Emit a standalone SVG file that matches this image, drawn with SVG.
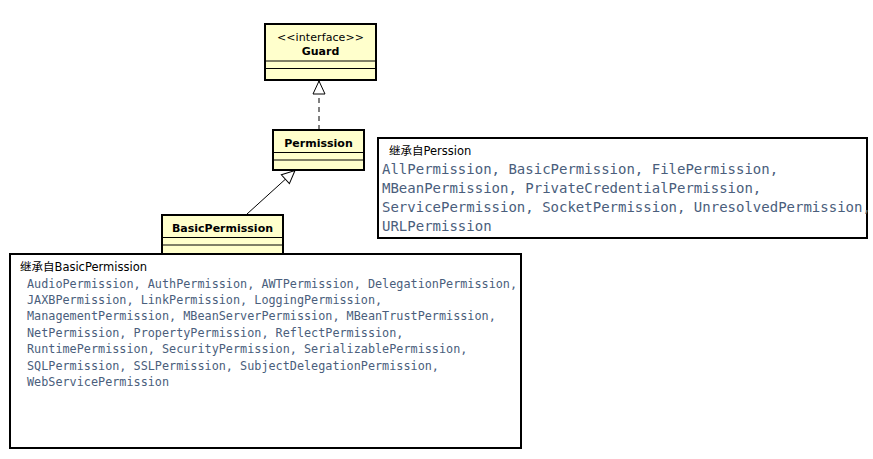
<svg xmlns="http://www.w3.org/2000/svg" width="873" height="459" viewBox="0 0 873 459">
<style>
.cls{fill:#FFFFCC;stroke:#000;stroke-width:2}
.sep{stroke:#000;stroke-width:1}
.name{font-family:"DejaVu Sans",sans-serif;font-size:11px;font-weight:bold;text-anchor:middle;fill:#000}
.st{font-family:"DejaVu Sans",sans-serif;font-size:11px;text-anchor:middle;fill:#000}
.note{fill:#fff;stroke:#000;stroke-width:2}
.nt{font-family:"DejaVu Sans","Noto Sans CJK SC",sans-serif;font-size:11.5px;fill:#000}
.code{font-family:"DejaVu Sans Mono",monospace;fill:#4A5E7C}
.c14{font-size:14px}
.c12{font-size:11.8px}
.edge{stroke:#000;stroke-width:1;fill:none}
</style>
<defs>
<marker id="tri" markerWidth="16" markerHeight="14" refX="14" refY="7" orient="auto" markerUnits="userSpaceOnUse">
<path d="M1,1 L14,7 L1,13 Z" fill="#fff" stroke="#000" stroke-width="1"/>
</marker>
</defs>
<rect width="873" height="459" fill="#fff"/>
<g id="connectors">
<line class="edge" x1="319" y1="130" x2="319" y2="81" stroke-dasharray="5,4" marker-end="url(#tri)"/>
<line class="edge" x1="247" y1="214" x2="295" y2="170.5" marker-end="url(#tri)"/>
</g>
<g id="guard">
<rect class="cls" x="265" y="24" width="111" height="56"/>
<text class="st" x="320.5" y="41" textLength="87" lengthAdjust="spacing">&lt;&lt;interface&gt;&gt;</text>
<text class="name" x="320.5" y="55">Guard</text>
<line class="sep" x1="265" y1="61" x2="376" y2="61"/>
<line class="sep" x1="265" y1="68.5" x2="376" y2="68.5"/>
</g>
<g id="permission">
<rect class="cls" x="273" y="130" width="91" height="40"/>
<text class="name" x="318.5" y="147">Permission</text>
<line class="sep" x1="273" y1="152.5" x2="364" y2="152.5"/>
<line class="sep" x1="273" y1="160" x2="364" y2="160"/>
</g>
<g id="basicpermission">
<rect class="cls" x="162" y="215" width="121" height="40"/>
<text class="name" x="222.5" y="232">BasicPermission</text>
<line class="sep" x1="162" y1="237.5" x2="283" y2="237.5"/>
<line class="sep" x1="162" y1="245" x2="283" y2="245"/>
</g>
<g id="note-permission">
<rect class="note" x="378" y="138" width="489" height="100"/>
<text class="nt" x="389" y="155">继承自Perssion</text>
<text class="code c14" x="382" y="174">AllPermission, BasicPermission, FilePermission,</text>
<text class="code c14" x="382" y="193">MBeanPermission, PrivateCredentialPermission,</text>
<text class="code c14" x="382" y="212">ServicePermission, SocketPermission, UnresolvedPermission,</text>
<text class="code c14" x="382" y="231">URLPermission</text>
</g>
<g id="note-basic">
<rect class="note" x="10" y="254" width="511" height="194"/>
<text class="nt" x="20" y="271">继承自BasicPermission</text>
<text class="code c12" x="27" y="287.5">AudioPermission, AuthPermission, AWTPermission, DelegationPermission,</text>
<text class="code c12" x="27" y="303.5">JAXBPermission, LinkPermission, LoggingPermission,</text>
<text class="code c12" x="27" y="320">ManagementPermission, MBeanServerPermission, MBeanTrustPermission,</text>
<text class="code c12" x="27" y="336.5">NetPermission, PropertyPermission, ReflectPermission,</text>
<text class="code c12" x="27" y="353">RuntimePermission, SecurityPermission, SerializablePermission,</text>
<text class="code c12" x="27" y="369.5">SQLPermission, SSLPermission, SubjectDelegationPermission,</text>
<text class="code c12" x="27" y="386">WebServicePermission</text>
</g>
</svg>
